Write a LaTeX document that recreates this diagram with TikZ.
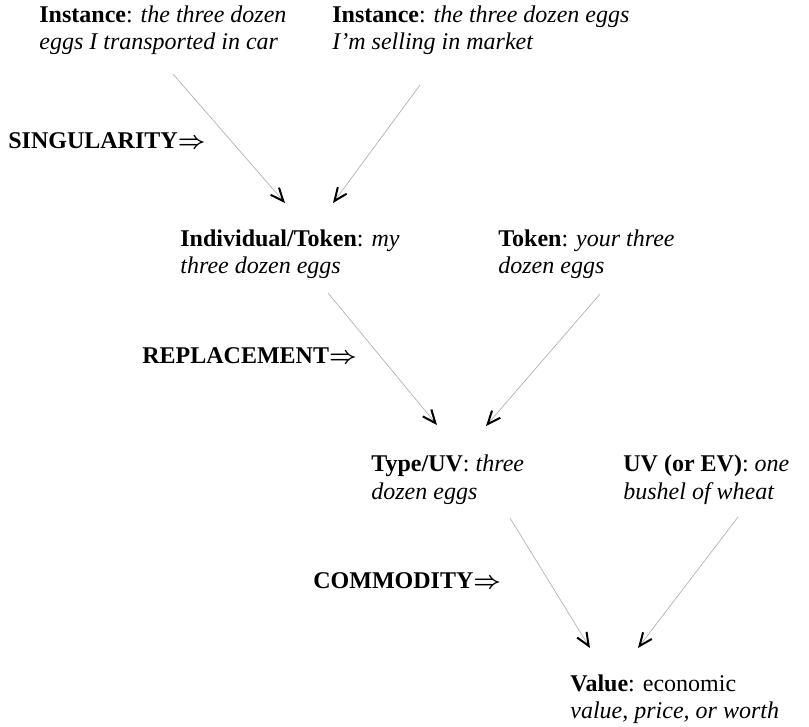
\documentclass[tikz,border=0pt]{standalone}
\usepackage{fontspec}
\setmainfont{Liberation Serif}
\usetikzlibrary{arrows.meta,calc}
\begin{document}
\begin{tikzpicture}[
    x=0.5pt,
    y=-0.5pt,
    term/.style={
        anchor=base west,
        align=left,
        inner sep=0pt,
        font=\fontsize{12}{13.5}\selectfont
    },
    rulename/.style={
        anchor=base west,
        inner sep=0pt,
        font=\fontsize{12}{13.5}\selectfont\bfseries\boldmath
    },
    link/.style={
        draw=gray!60,
        line width=0.35pt,
        -{Straight Barb[length=6.5pt,width=5.5pt,line width=1pt,black]}
    }
]
\useasboundingbox (0,0) rectangle (809,727);

% -------------------------------------------------
% Instances
% -------------------------------------------------

\node[term] (inst1) at (39,50)
    {\textbf{Instance}: \textit{the three dozen}\\
     \textit{eggs I transported in car}};
\node[term] (inst2) at (332,50)
    {\textbf{Instance}: \textit{the three dozen eggs}\\
     \textit{I'm selling in market}};

\node[rulename] (sing) at (8,149) {SINGULARITY$\Rightarrow$};

% -------------------------------------------------
% Tokens
% -------------------------------------------------

\node[term] (tok1) at (180,274)
    {\textbf{Individual/Token}: \textit{my}\\
     \textit{three dozen eggs}};
\node[term] (tok2) at (498,274)
    {\textbf{Token}: \textit{your three}\\
     \textit{dozen eggs}};

\node[rulename] (repl) at (142,364) {REPLACEMENT$\Rightarrow$};

% -------------------------------------------------
% Types
% -------------------------------------------------

\node[term] (type) at (371,499)
    {\textbf{Type/UV}: \textit{three}\\
     \textit{dozen eggs}};
\node[term] (uv) at (623,499)
    {\textbf{UV (or EV)}: \textit{one}\\
     \textit{bushel of wheat}};

\node[rulename] (comm) at (313,588) {COMMODITY$\Rightarrow$};

% -------------------------------------------------
% Value
% -------------------------------------------------

\node[term] (value) at (570,718)
    {\textbf{Value}: economic\\
     \textit{value, price, or worth}};

% -------------------------------------------------
% Arrows
% -------------------------------------------------

\draw[link] ($(inst1.base west)+(134,24)$) -- ($(tok1.base west)+(105,-71)$);
\draw[link] ($(inst2.base west)+(88,35)$) -- ($(tok1.base west)+(153,-71)$);

\draw[link] ($(tok1.base west)+(148,19)$) -- ($(type.base west)+(66,-74)$);
\draw[link] ($(tok2.base west)+(102,20)$) -- ($(type.base west)+(115,-73)$);

\draw[link] ($(type.base west)+(139,19)$) -- ($(value.base west)+(20,-70)$);
\draw[link] ($(uv.base west)+(115,18)$) -- ($(value.base west)+(68,-70)$);

\end{tikzpicture}
\end{document}
